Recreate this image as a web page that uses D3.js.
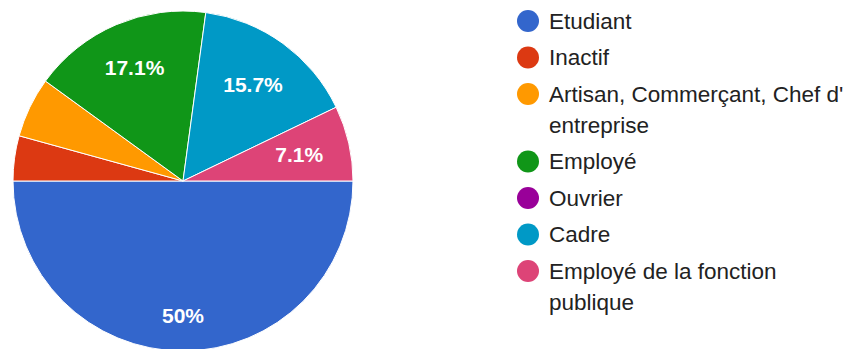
<!DOCTYPE html>
<html>
<head>
<meta charset="utf-8">
<script src="https://cdn.jsdelivr.net/npm/d3@7"></script>
<style>
  html, body { margin: 0; padding: 0; background: #fff; }
  svg { display: block; font-family: "Liberation Sans", Arial, sans-serif; }
</style>
</head>
<body>
<svg id="chart" width="848" height="349"></svg>
<script>
// Répartition par catégorie socio-professionnelle (70 réponses)
const categories = [
  "Etudiant",
  "Inactif",
  "Artisan, Commerçant, Chef d'entreprise",
  "Employé",
  "Ouvrier",
  "Cadre",
  "Employé de la fonction publique"
];
const counts = [35, 3, 4, 12, 0, 11, 5];
const colors = ["#3366cc", "#dc3912", "#ff9900", "#109618", "#990099", "#0099c6", "#dd4477"];

const width = 848, height = 349;
const cx = 183, cy = 181, radius = 170;

const svg = d3.select("#chart");
const total = d3.sum(counts);
const data = categories.map((c, i) => ({ name: c, value: counts[i], color: colors[i] }));

// Slices start at 3 o'clock and run clockwise
const pie = d3.pie().value(d => d.value).sort(null)
  .startAngle(Math.PI / 2).endAngle(Math.PI / 2 + 2 * Math.PI);
const arcs = pie(data);
const arc = d3.arc().innerRadius(0).outerRadius(radius);

const g = svg.append("g").attr("transform", `translate(${cx},${cy})`);
g.selectAll("path.slice")
  .data(arcs.filter(a => a.data.value > 0))
  .join("path")
  .attr("class", "slice")
  .attr("d", arc)
  .attr("fill", d => d.data.color)
  .attr("stroke", "#fff")
  .attr("stroke-width", 1);

// Percentage labels: the text box's outer corner sits on a fixed radius
const fmt = v => {
  const p = Math.round(v / total * 1000) / 10;
  return (p % 1 === 0 ? p.toFixed(0) : p.toFixed(1)) + "%";
};
const labelR = radius * 0.85;
arcs.filter(a => a.data.value / total >= 0.065).forEach(a => {
  const t = g.append("text")
    .attr("fill", "#fff")
    .attr("font-size", 21)
    .attr("font-weight", "bold")
    .attr("text-anchor", "middle")
    .attr("dy", "0.35em")
    .text(fmt(a.data.value));
  const bb = t.node().getBBox();
  const w = bb.width / 2, h = 8;
  const mid = (a.startAngle + a.endAngle) / 2;
  const ux = Math.sin(mid), uy = -Math.cos(mid);
  const c = [Math.sign(ux) * w, Math.sign(uy) * h];
  const uc = ux * c[0] + uy * c[1];
  const d = -uc + Math.sqrt(uc * uc - (c[0] * c[0] + c[1] * c[1]) + labelR * labelR);
  t.attr("x", ux * d).attr("y", uy * d);
});

// Legend
const legendX = 528, textX = 549, maxW = 300, legendFont = 22.5;
const lineH = 31, itemGap = 5.5;
const lg = svg.append("g");
let y = 21;

// Break on spaces and after apostrophes
function wrapLines(str, fontSize) {
  const tokens = str.match(/[^\s']+'|[^\s']+\s*|\s+/g);
  const probe = lg.append("text").attr("font-size", fontSize);
  const lines = [];
  let cur = "";
  tokens.forEach(tok => {
    const test = cur + tok;
    probe.text(test.trimEnd());
    if (probe.node().getComputedTextLength() > maxW && cur) {
      lines.push(cur.trimEnd());
      cur = tok.trimStart();
    } else {
      cur = test;
    }
  });
  if (cur) lines.push(cur.trimEnd());
  probe.remove();
  return lines;
}

data.forEach(d => {
  const lines = wrapLines(d.name, legendFont);
  lg.append("circle")
    .attr("cx", legendX).attr("cy", y).attr("r", 11)
    .attr("fill", d.color);
  const t = lg.append("text")
    .attr("x", textX).attr("y", y)
    .attr("font-size", legendFont)
    .attr("fill", "#222");
  lines.forEach((ln, i) => {
    t.append("tspan").attr("x", textX).attr("dy", i === 0 ? "0.35em" : lineH).text(ln);
  });
  y += lines.length * lineH + itemGap;
});
</script>
</body>
</html>
